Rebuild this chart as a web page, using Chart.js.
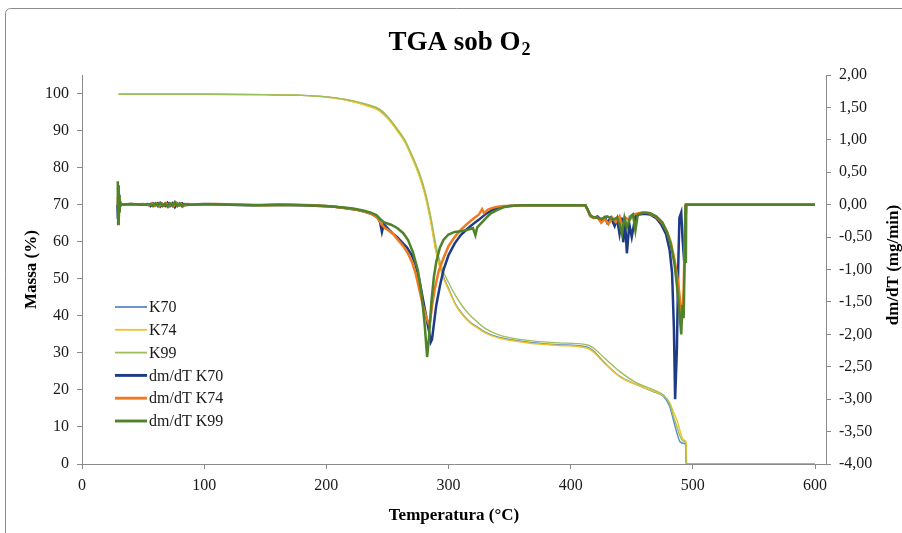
<!DOCTYPE html>
<html>
<head>
<meta charset="utf-8">
<title>TGA sob O2</title>
<script src="https://cdn.jsdelivr.net/npm/chart.js@4.4.1/dist/chart.umd.min.js"></script>
<style>
  html, body { margin: 0; padding: 0; background: #fff; }
  #wrap { width: 902px; height: 533px; }
</style>
</head>
<body>
<div id="wrap"><canvas id="tga" width="902" height="533"></canvas></div>
<script>
// TGA curves (massa %)
const tempK70 = [30, 100, 150, 180, 200, 215, 225, 235, 243, 250, 258, 264, 269, 273, 277, 281, 285, 290, 295, 300, 306, 312, 318, 323, 330, 340, 350, 367, 390, 413, 418, 427, 440, 454, 468, 476, 481, 484, 487, 489.5, 492, 494, 494.5, 600];
const massK70 = [99.8, 99.8, 99.7, 99.5, 99.1, 98.4, 97.6, 96.7, 95.7, 93.6, 90.2, 87.3, 83.8, 80.8, 77.3, 72.8, 66.8, 57.4, 51.3, 47.4, 43.0, 40.2, 38.2, 37.1, 35.6, 34.3, 33.6, 32.8, 32.2, 31.6, 30.7, 27.6, 23.7, 21.4, 19.5, 18.2, 15.6, 12.0, 8.3, 6.0, 5.6, 5.3, 0, 0];

const tempK74 = [30, 100, 150, 180, 200, 215, 225, 235, 243, 250, 258, 264, 269, 273, 277, 281, 285, 290, 295, 300, 306, 312, 318, 323, 330, 340, 350, 367, 390, 413, 418, 427, 440, 454, 468, 476, 481, 484, 487, 489.5, 491, 493, 494.5, 495, 600];
const massK74 = [99.8, 99.8, 99.7, 99.5, 99.0, 98.3, 97.5, 96.5, 95.4, 93.3, 89.9, 87.0, 83.5, 80.4, 76.8, 72.2, 66.0, 56.8, 50.9, 47.1, 42.8, 40.0, 38.0, 36.9, 35.4, 34.1, 33.4, 32.6, 32.0, 31.3, 30.4, 27.4, 23.6, 21.4, 19.6, 18.4, 16.6, 14.2, 11.8, 9.0, 7.3, 6.4, 6.0, 0, 0];

const tempK99 = [30, 100, 150, 180, 200, 215, 225, 235, 243, 250, 258, 264, 269, 273, 277, 281, 285, 290, 295, 300, 306, 312, 318, 323, 330, 340, 350, 367, 390, 413, 418, 427, 440, 454, 468, 476, 481, 484, 487, 489.5, 492, 494, 494.5, 600];
const massK99 = [99.8, 99.8, 99.7, 99.5, 99.1, 98.5, 97.8, 96.9, 95.9, 93.9, 90.5, 87.6, 84.2, 81.2, 77.8, 73.4, 67.6, 58.6, 52.6, 49.0, 45.3, 42.3, 40.0, 38.5, 36.6, 35.0, 34.1, 33.3, 32.7, 32.2, 31.5, 28.8, 25.0, 21.9, 20.0, 18.6, 16.2, 13.0, 10.0, 7.5, 6.2, 5.8, 0, 0];

// dm/dT curves (mg/min)
const dtTempK70 = [29, 29.4, 29.8, 30.2, 30.6, 31, 32, 40, 48, 54, 56, 58, 60, 62, 64, 66, 68, 70, 72, 74, 76, 78, 80, 82, 84, 88, 100, 120, 140, 160, 180, 195, 205, 215, 225, 232, 238, 242, 244, 245.5, 247, 250, 254, 258, 262, 266, 270, 273, 276, 279, 282, 284, 285.5, 286.5, 288, 290, 293, 296, 300, 305, 310, 315, 320, 325, 330, 335, 340, 345, 350, 360, 380, 400, 412, 414, 416, 419, 422, 425, 428, 430, 433, 436, 438, 440, 442, 443, 444.5, 446, 448, 450, 453, 456, 460, 465, 470, 474, 478, 481, 483, 484.5, 485.5, 487, 488, 489, 490.5, 491.5, 493, 494, 494.5, 600];
const dmdtK70 = [0, -0.22, 0.18, -0.12, 0.06, -0.03, 0, 0.01, 0, 0.01, -0.02, 0.02, -0.01, 0.02, -0.03, 0.01, -0.02, 0.03, -0.02, 0.02, -0.04, 0.02, -0.01, 0.02, -0.01, 0, 0.01, 0, -0.01, 0, -0.01, -0.02, -0.03, -0.05, -0.08, -0.11, -0.15, -0.2, -0.27, -0.42, -0.3, -0.36, -0.44, -0.5, -0.58, -0.66, -0.78, -0.92, -1.15, -1.45, -1.75, -1.95, -2.12, -2.08, -1.85, -1.55, -1.25, -1.0, -0.78, -0.6, -0.47, -0.38, -0.3, -0.23, -0.15, -0.09, -0.05, -0.03, -0.02, -0.01, -0.01, -0.01, -0.01, -0.08, -0.17, -0.2, -0.18, -0.24, -0.19, -0.28, -0.2, -0.33, -0.22, -0.45, -0.2, -0.58, -0.25, -0.75, -0.3, -0.5, -0.18, -0.15, -0.14, -0.15, -0.21, -0.3, -0.45, -0.7, -1.05, -1.9, -3.0, -2.2, -1.0, -0.2, -0.12, -0.5, -0.9, -0.3, 0, 0];

const dtTempK74 = [29, 29.4, 29.8, 30.2, 30.6, 31, 32, 40, 50, 55, 57, 59, 61, 63, 65, 67, 69, 71, 73, 75, 77, 79, 81, 83, 86, 95, 110, 130, 150, 170, 190, 205, 215, 225, 232, 238, 242, 245, 248, 251, 255, 259, 263, 267, 270, 273, 276, 279, 281.5, 283.5, 284.5, 285.5, 287, 289, 292, 296, 300, 305, 310, 315, 320, 325, 327.5, 329, 332, 336, 340, 345, 350, 360, 380, 400, 412, 414, 416, 419, 422, 425, 428, 431, 434, 437, 440, 442, 445, 448, 452, 458, 464, 470, 475, 479, 482, 485, 488, 490, 491.5, 492.5, 493.5, 494, 600];
const dmdtK74 = [0, 0.12, -0.18, 0.1, -0.05, 0.02, 0, 0, 0.01, -0.01, 0.02, -0.02, 0.01, -0.03, 0.02, -0.01, 0.02, -0.03, 0.02, -0.02, 0.03, -0.01, 0.01, -0.02, 0.01, 0, 0.01, 0, -0.01, 0, -0.01, -0.03, -0.05, -0.08, -0.11, -0.15, -0.2, -0.3, -0.36, -0.4, -0.46, -0.55, -0.64, -0.76, -0.88, -1.05, -1.3, -1.55, -1.72, -1.82, -1.86, -1.72, -1.5, -1.28, -1.02, -0.82, -0.64, -0.5, -0.39, -0.3, -0.22, -0.15, -0.07, -0.13, -0.08, -0.05, -0.03, -0.02, -0.02, -0.01, -0.01, -0.01, -0.01, -0.09, -0.18, -0.21, -0.2, -0.28, -0.22, -0.3, -0.2, -0.27, -0.18, -0.34, -0.2, -0.24, -0.15, -0.12, -0.13, -0.19, -0.28, -0.42, -0.58, -0.85, -1.2, -1.55, -1.75, -1.3, -0.4, 0, 0];

const dtTempK99 = [29, 29.3, 29.6, 29.9, 30.2, 30.5, 30.8, 31.2, 32, 40, 52, 56, 58, 60, 62, 64, 66, 68, 70, 72, 74, 76, 78, 80, 82, 84, 90, 105, 125, 145, 165, 185, 200, 212, 222, 230, 236, 241, 244, 247, 250, 253, 258, 263, 267, 271, 275, 278, 280.5, 282.5, 284, 286, 288, 290, 293, 296, 300, 305, 310, 315, 320, 322, 323.5, 327, 331, 335, 340, 345, 350, 360, 380, 400, 412, 414, 416, 418, 421, 425, 430, 435, 438, 440, 442, 444, 446, 449, 451, 453, 455, 460, 465, 470, 475, 479, 482, 485, 487, 489, 490.5, 491.5, 492.5, 493.5, 494, 494.3, 494.6, 600];
const dmdtK99 = [0, 0.36, -0.3, 0.3, -0.25, 0.15, -0.12, 0.05, 0, 0.01, 0, 0.01, -0.02, 0.02, -0.02, 0.03, -0.02, 0.02, -0.03, 0.02, -0.02, 0.04, -0.02, 0.02, -0.03, 0.01, 0, 0.01, 0, -0.01, 0, -0.01, -0.02, -0.04, -0.06, -0.09, -0.12, -0.16, -0.22, -0.27, -0.29, -0.31, -0.36, -0.44, -0.55, -0.74, -1.02, -1.38, -1.85, -2.35, -2.05, -1.5, -1.12, -0.88, -0.66, -0.54, -0.46, -0.42, -0.41, -0.39, -0.36, -0.47, -0.35, -0.28, -0.2, -0.13, -0.08, -0.04, -0.02, -0.01, -0.01, -0.01, -0.01, -0.08, -0.16, -0.19, -0.2, -0.22, -0.18, -0.23, -0.2, -0.3, -0.45, -0.2, -0.35, -0.18, -0.15, -0.4, -0.15, -0.12, -0.13, -0.18, -0.27, -0.43, -0.62, -0.92, -1.25, -1.65, -2.0, -1.55, -1.75, -0.6, 0, -0.9, 0, 0];

const xTicks = [0, 100, 200, 300, 400, 500, 600];

const serif = '"Liberation Serif", "Times New Roman", serif';
const axisGrey = '#8a8a8a';
const labelColor = '#1a1a1a';

const pts = (xs, ys) => xs.map((x, i) => ({ x: x, y: ys[i] }));

const tgaLine = (label, xs, ys, color, order) => ({
  label, data: pts(xs, ys), yAxisID: 'yMass',
  borderColor: color, borderWidth: 1.4, pointRadius: 0,
  tension: 0.3, cubicInterpolationMode: 'monotone', order
});
const dtLine = (label, xs, ys, color, order) => ({
  label, data: pts(xs, ys), yAxisID: 'yDm',
  borderColor: color, borderWidth: 2.5, pointRadius: 0,
  tension: 0, order
});

const decor = {
  id: 'decor',
  beforeDraw(chart) {
    const ctx = chart.ctx;
    ctx.save();
    ctx.fillStyle = '#fff';
    ctx.fillRect(0, 0, chart.width, chart.height);
    ctx.strokeStyle = '#8c8c8c';
    ctx.lineWidth = 1;
    ctx.beginPath();
    ctx.roundRect(5.5, 8.5, 920, 560, 5);
    ctx.stroke();
    ctx.restore();
  },
  afterDraw(chart) {
    const ctx = chart.ctx;
    ctx.save();
    // title with subscript
    ctx.fillStyle = '#000';
    ctx.textBaseline = 'alphabetic';
    const main = 'TGA sob O', sub = '2';
    ctx.font = 'bold 27px ' + serif;
    const w1 = ctx.measureText(main).width;
    ctx.font = 'bold 18px ' + serif;
    const w2 = ctx.measureText(sub).width;
    const x0 = 459 - (w1 + w2) / 2;
    ctx.font = 'bold 27px ' + serif;
    ctx.fillText(main, x0, 50);
    ctx.font = 'bold 18px ' + serif;
    ctx.fillText(sub, x0 + w1 + 1, 55);

    // right axis title, reading bottom to top
    ctx.font = 'bold 17px ' + serif;
    ctx.textAlign = 'center';
    ctx.textBaseline = 'middle';
    ctx.translate(894, 265);
    ctx.rotate(-Math.PI / 2);
    ctx.fillText('dm/dT (mg/min)', 0, 0);
    ctx.restore();

    // legend inside the plot
    ctx.save();
    ctx.font = '16px ' + serif;
    ctx.textAlign = 'left';
    ctx.textBaseline = 'middle';
    chart.data.datasets.forEach((ds, i) => {
      const y = 307 + i * 22.8;
      ctx.strokeStyle = ds.borderColor;
      ctx.lineWidth = ds.borderWidth + 0.4;
      ctx.beginPath();
      ctx.moveTo(115, y);
      ctx.lineTo(147, y);
      ctx.stroke();
      ctx.fillStyle = labelColor;
      ctx.fillText(ds.label, 149, y + 1);
    });
    ctx.restore();
  }
};

new Chart(document.getElementById('tga'), {
  type: 'line',
  data: {
    datasets: [
      tgaLine('K70', tempK70, massK70, '#5b8bc8', 6),
      tgaLine('K74', tempK74, massK74, '#f2c229', 5),
      tgaLine('K99', tempK99, massK99, '#9dbf5c', 4),
      dtLine('dm/dT K70', dtTempK70, dmdtK70, '#1f3b87', 3),
      dtLine('dm/dT K74', dtTempK74, dmdtK74, '#f07a20', 2),
      dtLine('dm/dT K99', dtTempK99, dmdtK99, '#4f8229', 1)
    ]
  },
  options: {
    responsive: false,
    animation: false,
    devicePixelRatio: 1,
    layout: { padding: { top: 75, left: 0, right: 0, bottom: 0 } },
    plugins: {
      legend: { display: false },
      title: { display: false },
      tooltip: { enabled: false }
    },
    scales: {
      x: {
        type: 'linear', min: 0, max: 609,
        afterBuildTicks: s => { s.ticks = xTicks.map(v => ({ value: v })); },
        afterFit: s => { s.height = 69; },
        ticks: { padding: 7, color: labelColor, font: { family: serif, size: 16 } },
        grid: { drawOnChartArea: false, tickLength: 5, color: axisGrey },
        border: { color: axisGrey },
        title: {
          display: true, text: 'Temperatura (°C)', color: '#000',
          font: { family: serif, size: 17, weight: 'bold' },
          padding: { top: 0, bottom: 7 }
        }
      },
      yMass: {
        position: 'left', min: 0, max: 105,
        afterBuildTicks: s => { s.ticks = s.ticks.filter(t => t.value <= 100); },
        afterFit: s => { s.width = 82; },
        ticks: { stepSize: 10, padding: 8, color: labelColor, font: { family: serif, size: 16 } },
        grid: { drawOnChartArea: false, tickLength: 5, color: axisGrey },
        border: { color: axisGrey },
        title: {
          display: true, text: 'Massa (%)', color: '#000',
          font: { family: serif, size: 17, weight: 'bold' },
          padding: { top: 21, bottom: 0 }
        }
      },
      yDm: {
        position: 'right', min: -4, max: 2,
        afterFit: s => { s.width = 76; },
        ticks: {
          stepSize: 0.5, padding: 8, color: labelColor, font: { family: serif, size: 16 },
          callback: v => v.toFixed(2).replace('.', ',')
        },
        grid: { drawOnChartArea: false, tickLength: 5, color: axisGrey },
        border: { color: axisGrey }
      }
    }
  },
  plugins: [decor]
});
</script>
</body>
</html>
